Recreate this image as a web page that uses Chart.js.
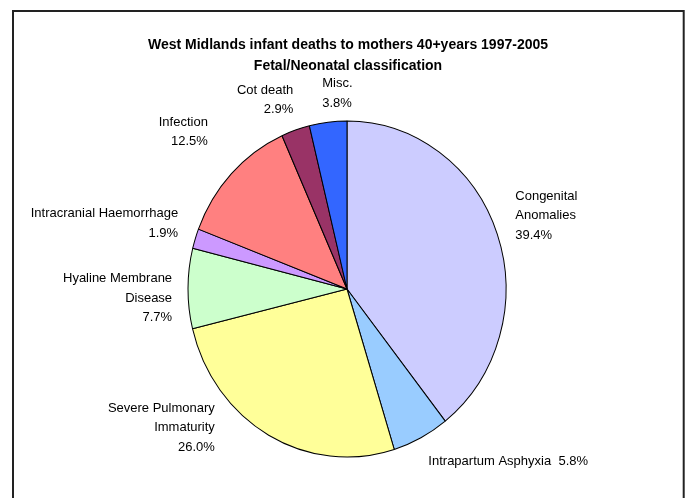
<!DOCTYPE html>
<html>
<head>
<meta charset="utf-8">
<script src="https://cdn.jsdelivr.net/npm/chart.js@4"></script>
<style>
  body { margin: 0; background: #fff; }
  canvas { display: block; }
</style>
</head>
<body>
<canvas id="chart" width="687" height="498"></canvas>
<script>
const titleLines = [
  "West Midlands infant deaths to mothers 40+years 1997-2005",
  "Fetal/Neonatal classification",
];

const categories = [
  "Congenital Anomalies",
  "Intrapartum Asphyxia",
  "Severe Pulmonary Immaturity",
  "Hyaline Membrane Disease",
  "Intracranial Haemorrhage",
  "Infection",
  "Cot death",
  "Misc.",
];

const percentages = [39.4, 5.8, 26.0, 7.7, 1.9, 12.5, 2.9, 3.8];

// how each category name is broken over lines in the label
const labelLines = [
  ["Congenital", "Anomalies"],
  ["Intrapartum Asphyxia"],
  ["Severe Pulmonary", "Immaturity"],
  ["Hyaline Membrane", "Disease"],
  ["Intracranial Haemorrhage"],
  ["Infection"],
  ["Cot death"],
  ["Misc."],
];

const sliceColors = [
  "#CCCCFF",
  "#99CCFF",
  "#FFFF99",
  "#CCFFCC",
  "#CC99FF",
  "#FF8080",
  "#993366",
  "#3366FF",
];

// label placement: text sits near the slice's mid angle, then nudged
const labelAlign = ["left", "left", "right", "right", "right", "right", "right", "left"];
const labelNudge = [
  [3, -13],
  [0, 9],
  [-46, -22],
  [0, 10],
  [-2, -10],
  [-12, -30],
  [3, -14],
  [-4, -12],
];

const pieSquash = 168 / 159; // pie is drawn a bit taller than wide
const labelFont = "13px 'Liberation Sans', Arial, sans-serif";
const titleFont = "bold 14px 'Liberation Sans', Arial, sans-serif";
const lineHeight = 19.5;

const framePlugin = {
  id: "frame",
  beforeDraw(chart) {
    const ctx = chart.ctx;
    ctx.save();
    ctx.fillStyle = "#fff";
    ctx.fillRect(0, 0, chart.width, chart.height);
    ctx.strokeStyle = "#222";
    ctx.lineWidth = 2;
    ctx.strokeRect(13, 11, 670.7, 500);
    ctx.restore();
  },
};

const squashPlugin = {
  id: "squash",
  beforeDatasetsDraw(chart) {
    const arc = chart.getDatasetMeta(0).data[0];
    const ctx = chart.ctx;
    ctx.save();
    ctx.translate(arc.x, arc.y);
    ctx.scale(1, pieSquash);
    ctx.translate(-arc.x, -arc.y);
  },
  afterDatasetsDraw(chart) {
    chart.ctx.restore();
  },
};

const textPlugin = {
  id: "texts",
  afterDraw(chart) {
    const ctx = chart.ctx;
    ctx.save();
    ctx.fillStyle = "#000";
    ctx.textBaseline = "middle";

    ctx.font = titleFont;
    ctx.textAlign = "center";
    ctx.fillText(titleLines[0], 348, 45);
    ctx.fillText(titleLines[1], 348, 66);

    ctx.font = labelFont;
    chart.getDatasetMeta(0).data.forEach((arc, i) => {
      const mid = (arc.startAngle + arc.endAngle) / 2;
      const r = arc.outerRadius * 1.1;
      const x = arc.x + Math.cos(mid) * r + labelNudge[i][0];
      const y = arc.y + Math.sin(mid) * r * pieSquash + labelNudge[i][1];
      const pct = percentages[i].toFixed(1) + "%";
      ctx.textAlign = labelAlign[i];

      if (i === 1) {
        ctx.fillText(labelLines[i][0] + "  " + pct, x, y);
        return;
      }
      const lines = labelLines[i].concat([pct]);
      const top = y - ((lines.length - 1) * lineHeight) / 2;
      lines.forEach((line, k) => ctx.fillText(line, x, top + k * lineHeight));
    });
    ctx.restore();
  },
};

new Chart(document.getElementById("chart"), {
  type: "pie",
  data: {
    labels: categories,
    datasets: [
      {
        data: percentages,
        backgroundColor: sliceColors,
        borderColor: "#000",
        borderWidth: 1,
        radius: 159,
      },
    ],
  },
  options: {
    responsive: false,
    animation: false,
    layout: { padding: { left: 7, right: 0, top: 80, bottom: 0 } },
    plugins: {
      legend: { display: false },
      tooltip: { enabled: false },
    },
  },
  plugins: [framePlugin, squashPlugin, textPlugin],
});
</script>
</body>
</html>
